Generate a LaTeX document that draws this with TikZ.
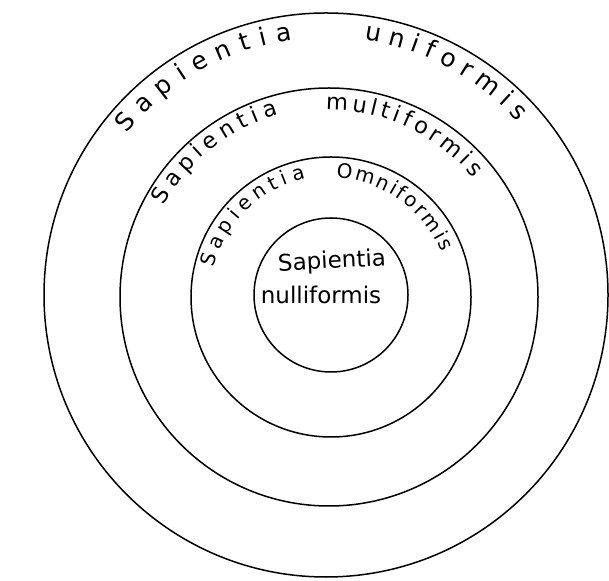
\documentclass[tikz,border=0pt]{standalone}
\usepackage{fontspec}
\usetikzlibrary{decorations.text}
\newfontfamily\handfont{DejaVu Sans}
\newcommand{\fA}{\handfont\fontsize{25}{28}\selectfont}
\newcommand{\fB}{\handfont\fontsize{22.5}{25}\selectfont}
\newcommand{\fC}{\handfont\fontsize{20}{23}\selectfont}
\begin{document}
\begin{tikzpicture}[x=1pt,y=1pt]
\tikzset{
  ring/.style={circle,draw,line width=1.5pt,inner sep=0pt,minimum size=#1},
  arctext/.style={decorate,decoration={text along path,text align=fit to path,text={#1}}},
  centretext/.style={font=\handfont\fontsize{23}{26}\selectfont,inner sep=0pt}
}
\useasboundingbox (0,0) rectangle (609,580);
\fill[white] (0,0) rectangle (609,580);
% circles
\node[ring=564pt] (c1) at (326,285) {};
\node[ring=418pt] (c2) at (329,283) {};
\node[ring=280pt] (c3) at (331,283) {};
\node[ring=154pt] (c4) at (331,285) {};
% outer ring text
\path[arctext={|\fA|Sapientia}] (c1.center) ++(141:257pt) arc[start angle=141,end angle=97.5,radius=257pt];
\path[arctext={|\fA|uniformis}] (c1.center) ++(81.5:258pt) arc[start angle=81.5,end angle=42,radius=258pt];
% second ring text
\path[arctext={|\fB|Sapientia}] (c2.center) ++(151:189pt) arc[start angle=151,end angle=105.5,radius=189pt];
\path[arctext={|\fB|multiformis}] (c2.center) ++(91:187pt) arc[start angle=91,end angle=39.5,radius=187pt];
% third ring text
\path[arctext={|\fC|Sapientia}] (c3.center) ++(166:121pt) arc[start angle=166,end angle=102,radius=121pt];
\path[arctext={|\fC|Omniformis}] (c3.center) ++(87.5:119pt) arc[start angle=87.5,end angle=22,radius=119pt];
% inner text
\node[centretext,rotate=3] (t1) at (332,318) {Sapientia};
\node[centretext] (t2) at (321,285) {nulliformis};
\end{tikzpicture}
\end{document}
